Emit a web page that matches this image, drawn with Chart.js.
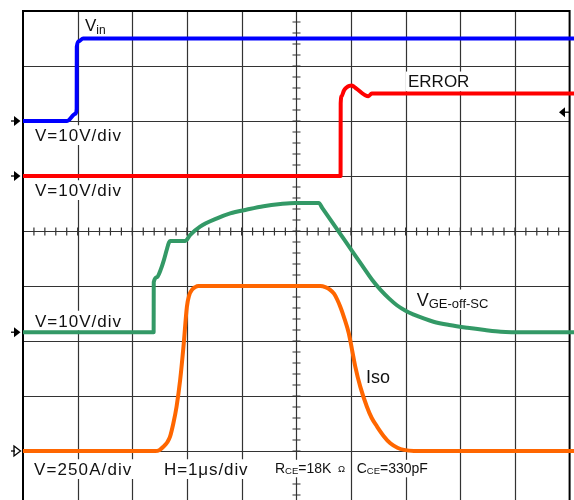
<!DOCTYPE html>
<html>
<head>
<meta charset="utf-8">
<script src="https://cdn.jsdelivr.net/npm/chart.js@4.4.0/dist/chart.umd.min.js"></script>
<style>
  html, body { margin: 0; padding: 0; background: #fff; }
  #wrap { width: 574px; height: 500px; }
</style>
</head>
<body>
<div id="wrap"><canvas id="scope"></canvas></div>
<script>
// time in divisions (H = 1 µs/div), level in divisions from screen centre
const vinT = [0, 0.80, 0.96, 0.982, 0.984, 1.02, 1.10, 10.08];
const vinV = [2.0, 2.0, 2.13, 2.22, 3.35, 3.45, 3.50, 3.50];

const errT = [0, 5.81, 5.812, 5.83, 5.87, 5.92, 5.97, 6.01, 6.06, 6.10, 6.32, 6.38, 10.08];
const errV = [1.0, 1.0, 2.32, 2.45, 2.55, 2.61, 2.64, 2.645, 2.62, 2.59, 2.45, 2.50, 2.50];

const vgeT = [0, 2.39, 2.392, 2.45, 2.52, 2.58, 2.63, 2.67, 2.69, 2.97, 3.06, 3.24, 3.55, 3.79, 4.10, 4.40, 4.71, 4.98, 5.41, 5.48, 5.90, 6.20, 6.39, 6.55, 6.70, 6.84, 7.00, 7.15, 7.33, 7.51, 7.80, 8.13, 8.45, 8.74, 9.20, 10.08];
const vgeV = [-1.84, -1.84, -0.93, -0.84, -0.70, -0.52, -0.34, -0.21, -0.18, -0.18, -0.07, 0.08, 0.23, 0.32, 0.39, 0.45, 0.49, 0.51, 0.51, 0.41, -0.19, -0.62, -0.89, -1.08, -1.23, -1.35, -1.45, -1.52, -1.59, -1.65, -1.71, -1.76, -1.80, -1.83, -1.84, -1.84];

const isoT = [0, 2.42, 2.50, 2.57, 2.64, 2.69, 2.75, 2.81, 2.875, 2.936, 2.998, 3.04, 3.09, 3.15, 3.21, 5.44, 5.53, 5.62, 5.69, 5.75, 5.81, 5.87, 5.96, 6.02, 6.08, 6.17, 6.29, 6.38, 6.48, 6.60, 6.72, 6.85, 6.97, 7.15, 10.08];
const isoV = [-4.0, -4.0, -3.98, -3.92, -3.84, -3.74, -3.50, -3.19, -2.71, -2.10, -1.38, -1.17, -1.07, -1.02, -1.0, -1.0, -1.02, -1.07, -1.14, -1.25, -1.39, -1.56, -1.86, -2.16, -2.47, -2.83, -3.19, -3.40, -3.56, -3.73, -3.86, -3.94, -3.98, -4.0, -4.0];

// channel ground markers (left) and trigger level (right)
const groundLevels = [2.0, 1.0, -1.84, -4.0];
const triggerLevel = 2.16;

function pts(t, v) { return t.map((x, i) => ({ x: x, y: v[i] })); }

const FONT = '"Liberation Sans", Arial, sans-serif';

function drawRun(ctx, x, base, parts) {
  // parts: [text, size, dy, spacing]
  let w = 0, top = Infinity;
  parts.forEach(p => {
    ctx.font = p[1] + 'px ' + FONT;
    w += ctx.measureText(p[0]).width + (p[3] || 0) * p[0].length;
    top = Math.min(top, base + (p[2] || 0) - p[1] * 0.75);
  });
  ctx.fillStyle = '#fff';
  ctx.fillRect(x - 2, top - 3, w + 4, base - top + 7);
  ctx.fillStyle = '#111';
  let cx = x;
  parts.forEach(p => {
    ctx.font = p[1] + 'px ' + FONT;
    ctx.letterSpacing = (p[3] || 0) + 'px';
    ctx.fillText(p[0], cx, base + (p[2] || 0));
    cx += ctx.measureText(p[0]).width;
    ctx.letterSpacing = '0px';
  });
}

const scopePlugin = {
  id: 'scope',
  beforeDatasetsDraw(chart) {
    const { ctx, scales: { x, y } } = chart;
    const px = v => x.getPixelForValue(v), py = v => y.getPixelForValue(v);
    const left = px(0), right = px(10), top = py(4), bottom = chart.height;
    ctx.save();

    // graticule
    ctx.strokeStyle = '#333';
    ctx.lineWidth = 1.2;
    ctx.beginPath();
    for (let i = 1; i < 10; i++) { const X = Math.round(px(i)) + 0.5; ctx.moveTo(X, top); ctx.lineTo(X, bottom); }
    for (let j = -4; j < 4; j++) { const Y = Math.round(py(j)) + 0.5; ctx.moveTo(left, Y); ctx.lineTo(right, Y); }
    ctx.stroke();

    // centre axis minor ticks
    const cx = Math.round(px(5)) + 0.5, cy = Math.round(py(0)) + 0.5;
    ctx.beginPath();
    for (let k = 1; k < 50; k++) { const X = px(k / 5); ctx.moveTo(X, cy - 4); ctx.lineTo(X, cy + 4); }
    for (let k = -24; k < 20; k++) { const Y = py(k / 5); ctx.moveTo(cx - 4, Y); ctx.lineTo(cx + 4, Y); }
    ctx.stroke();

    // frame
    ctx.strokeStyle = '#000';
    ctx.lineWidth = 2;
    ctx.beginPath();
    ctx.moveTo(left, bottom); ctx.lineTo(left, top); ctx.lineTo(right, top); ctx.lineTo(right, bottom);
    ctx.stroke();

    // ground markers
    ctx.fillStyle = '#000';
    ctx.strokeStyle = '#000';
    ctx.lineWidth = 1.3;
    groundLevels.forEach((lv, i) => {
      const Y = py(lv), hollow = i === groundLevels.length - 1;
      ctx.beginPath(); ctx.moveTo(11, Y); ctx.lineTo(15, Y); ctx.stroke();
      ctx.beginPath(); ctx.moveTo(14, Y - 5); ctx.lineTo(20.5, Y); ctx.lineTo(14, Y + 5); ctx.closePath();
      if (hollow) ctx.stroke(); else ctx.fill();
    });
    const TY = py(triggerLevel);
    ctx.beginPath(); ctx.moveTo(564, TY); ctx.lineTo(569, TY); ctx.stroke();
    ctx.beginPath(); ctx.moveTo(565, TY - 5); ctx.lineTo(559, TY); ctx.lineTo(565, TY + 5); ctx.closePath(); ctx.fill();

    // annotations
    drawRun(ctx, 85, 30.5, [['V', 17], ['in', 12, 3]]);
    drawRun(ctx, 35, 141, [['V=10V/div', 17, 0, 1]]);
    drawRun(ctx, 35, 196, [['V=10V/div', 17, 0, 1]]);
    drawRun(ctx, 35, 326.5, [['V=10V/div', 17, 0, 1]]);
    drawRun(ctx, 408, 87.3, [['ERROR', 17]]);
    drawRun(ctx, 34, 475, [['V=250A/div', 17, 0, 1.1]]);
    drawRun(ctx, 164, 475, [['H=1μs/div', 17, 0, 0.9]]);
    drawRun(ctx, 275, 473.3, [['R', 14], ['CE', 9.5, 1], ['=18K', 14]]);
    drawRun(ctx, 338, 471.7, [['Ω', 9.5]]);
    drawRun(ctx, 356.7, 473.3, [['C', 14], ['CE', 9.5, 1], ['=330pF', 14]]);
    drawRun(ctx, 416.7, 306, [['V', 18], ['GE-off-SC', 13, 2.3]]);
    drawRun(ctx, 366, 382.7, [['Iso', 18]]);

    ctx.restore();
  }
};

function trace(data, color) {
  return {
    data: data, borderColor: color, borderWidth: 4, cubicInterpolationMode: 'monotone',
    pointRadius: 0, fill: false, borderJoinStyle: 'round', borderCapStyle: 'butt'
  };
}

new Chart(document.getElementById('scope'), {
  type: 'line',
  data: {
    datasets: [
      trace(pts(vinT, vinV), '#0000ff'),
      trace(pts(errT, errV), '#ff0000'),
      trace(pts(vgeT, vgeV), '#339966'),
      trace(pts(isoT, isoV), '#ff6600')
    ]
  },
  options: {
    responsive: true,
    maintainAspectRatio: false,
    animation: false,
    layout: { padding: 0 },
    plugins: { legend: { display: false }, tooltip: { enabled: false } },
    scales: {
      x: { type: 'linear', min: -23 / 54.66, max: 551 / 54.66, display: false },
      y: { type: 'linear', min: 4.2 - 500 / 55, max: 4.2, display: false }
    }
  },
  plugins: [scopePlugin]
});
</script>
</body>
</html>
